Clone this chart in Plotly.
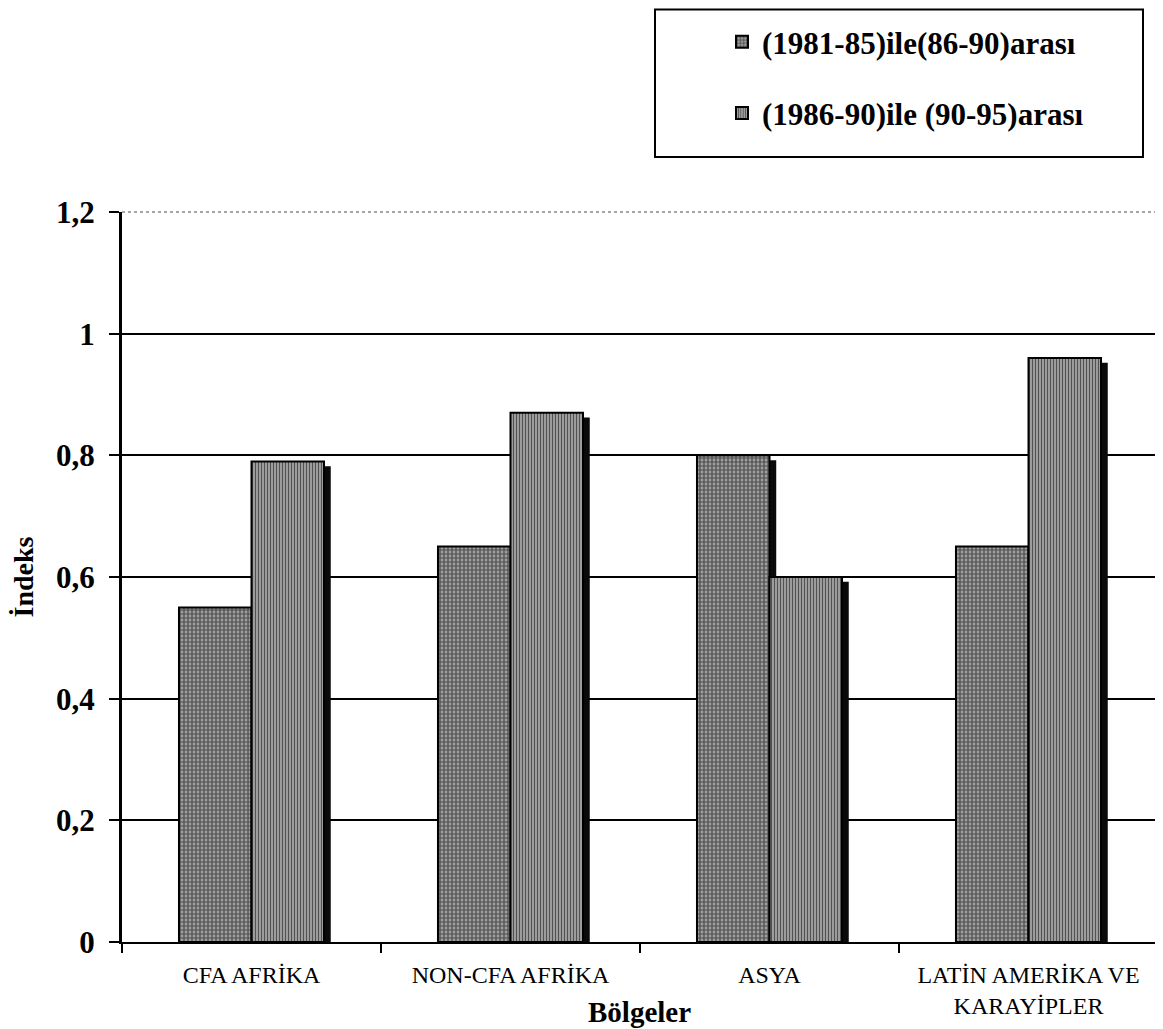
import plotly.graph_objects as go

categories = ["CFA AFRİKA", "NON-CFA AFRİKA", "ASYA", "LATİN AMERİKA VE<br>KARAYİPLER"]
series_names = ["(1981-85)ile(86-90)arası", "(1986-90)ile (90-95)arası"]
values_1 = [0.55, 0.65, 0.80, 0.65]
values_2 = [0.79, 0.87, 0.60, 0.96]
y_tickvals = [0, 0.2, 0.4, 0.6, 0.8, 1.0, 1.2]
y_ticktext = ["0", "0,2", "0,4", "0,6", "0,8", "1", "1,2"]

FONT = "Liberation Serif"
W = 0.28
SH = 0.026  # shadow shift (category units)

# page has an 8px body margin; figure sized so plot area matches reference pixels
OFF = 8
FW, FH = 1163 - OFF, 1029 - OFF
L, R, T, B = 122 - OFF, 5, 212 - OFF, 87
PW = FW - L - R
PH = FH - T - B


def px(xp):
    return (xp - OFF - L) / PW


def py(yp):
    return (FH - B - (yp - OFF)) / PH


fig = go.Figure()
# drop shadows
for vals, off in [(values_1, -W), (values_2, 0)]:
    fig.add_trace(go.Bar(x=categories, y=[v - 0.008 for v in vals], width=W, offset=off + SH,
                         marker=dict(color="#0a0a0a", line=dict(width=0)),
                         showlegend=False, hoverinfo="skip"))
fig.add_trace(go.Bar(x=categories, y=values_1, width=W, offset=-W, name=series_names[0],
                     legendgroup="a",
                     marker=dict(color="#888888",
                                 pattern=dict(shape=".", fgcolor="#000000", bgcolor="#b8b8b8",
                                              size=4, solidity=0.7),
                                 line=dict(color="black", width=2))))
fig.add_trace(go.Bar(x=categories, y=values_2, width=W, offset=0, name=series_names[1],
                     legendgroup="b",
                     marker=dict(color="#808080",
                                 pattern=dict(shape="|", fgcolor="#000000", bgcolor="#a4a4a4",
                                              size=3, solidity=0.4),
                                 line=dict(color="black", width=2))))

fig.update_layout(
    width=FW, height=FH,
    margin=dict(l=L, r=R, t=T, b=B),
    paper_bgcolor="white", plot_bgcolor="white",
    barmode="overlay",
    font=dict(family=FONT, color="black"),
    showlegend=True,
    legend=dict(x=px(722), y=py(15), xanchor="left", yanchor="top",
                font=dict(family=FONT, size=31, weight="bold"),
                bgcolor="rgba(0,0,0,0)", borderwidth=0,
                tracegroupgap=28, traceorder="grouped", itemwidth=30),
    xaxis=dict(type="category", showgrid=False, showline=True, linecolor="black", linewidth=2,
               ticks="outside", tickson="boundaries", ticklen=9, tickcolor="black", tickwidth=2,
               tickfont=dict(family=FONT, size=24), range=[-0.5, 3.5], ticklabelstandoff=10),
    yaxis=dict(range=[0, 1.2], tickvals=y_tickvals, ticktext=y_ticktext,
               showgrid=True, gridcolor="black", gridwidth=1.5,
               showline=True, linecolor="black", linewidth=3,
               ticks="outside", ticklen=10, tickcolor="black", tickwidth=2,
               tickfont=dict(family=FONT, size=31, weight="bold"), ticklabelstandoff=8,
               title=dict(text="İndeks", font=dict(family=FONT, size=28, weight="bold"), standoff=24),
               zeroline=False),
    shapes=[
        dict(type="rect", xref="paper", yref="paper", x0=px(655), x1=px(1143),
             y0=py(157), y1=py(9.5), line=dict(color="black", width=2)),
        dict(type="line", xref="paper", yref="paper", x0=0, x1=1, y0=1, y1=1,
             line=dict(color="#888888", width=1.5, dash="dot")),
        dict(type="line", xref="paper", yref="paper", x0=1, x1=1, y0=0, y1=1,
             line=dict(color="#888888", width=1.5, dash="dot")),
    ],
    annotations=[
        dict(text="<b>Bölgeler</b>", xref="paper", yref="paper", x=px(639),
             y=py(1012), xanchor="center", yanchor="middle", showarrow=False,
             font=dict(family=FONT, size=29)),
    ],
)

fig.write_html("out.html")
